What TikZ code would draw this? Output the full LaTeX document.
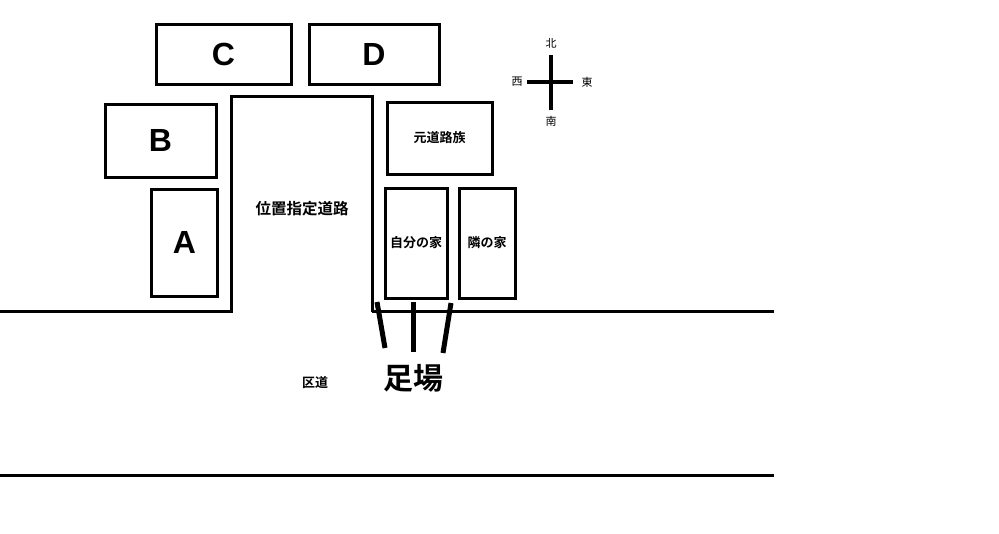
\documentclass[tikz,border=0pt]{standalone}
\usepackage{fontspec}
\setmainfont{Liberation Sans}
\newfontfamily\jpb[BoldFont={Noto Sans CJK JP Bold}]{Noto Sans CJK JP}
\begin{document}
\begin{tikzpicture}[x=1pt,y=-1pt,
  house/.style={draw,line width=3pt,inner sep=0pt,minimum width=#1},
  bigletter/.style={font=\fontsize{32}{32}\selectfont\bfseries},
  jlabel/.style={font=\jpb\fontsize{13}{13}\selectfont\bfseries,inner sep=0pt},
  compasslabel/.style={font=\jpb\fontsize{11}{11}\selectfont,inner sep=0pt},
  roadline/.style={line width=3pt},
  scaffold/.style={line width=5pt},
  compassline/.style={line width=4pt}]
\useasboundingbox (0,0) rectangle (999,533);
% houses
\node[house=135pt,minimum height=60pt,bigletter] (C) at (223.5,54) {C};
\node[house=130pt,minimum height=60pt,bigletter] (D) at (374,54) {D};
\node[house=111pt,minimum height=73pt,bigletter] (B) at (160.5,140.5) {B};
\node[house=66pt,minimum height=107pt,bigletter] (A) at (184.5,242.5) {A};
\node[house=105pt,minimum height=72pt,jlabel] (M) at (439.5,138) {元道路族};
\node[house=62pt,minimum height=110pt,jlabel] (H) at (416,243) {自分の家};
\node[house=56pt,minimum height=110pt,jlabel] (N) at (487,243) {隣の家};
% roads
\coordinate (r1) at (0,311);
\coordinate (r2) at (231,311);
\coordinate (r3) at (231,96);
\coordinate (r4) at (372,96);
\coordinate (r5) at (372,312);
\coordinate (r6) at (774,311);
\coordinate (r7) at (372,311);
\draw[roadline,line join=miter] (r1) -- (r2) -- (r3) -- (r4) -- (r5);
\draw[roadline] (r7) -- (r6);
\coordinate (b1) at (0,475);
\coordinate (b2) at (774,475);
\draw[roadline] (b1) -- (b2);
\node[font=\jpb\fontsize{15.5}{15.5}\selectfont\bfseries,inner sep=0pt] (ichi) at (302,209) {位置指定道路};
\node[jlabel] (kudo) at (315,383) {区道};
% scaffolding
\coordinate (s1a) at (377,302);
\coordinate (s1b) at (385,348);
\coordinate (s2a) at (413,302);
\coordinate (s2b) at (413,352);
\coordinate (s3a) at (451,303);
\coordinate (s3b) at (443,353);
\draw[scaffold] (s1a) -- (s1b);
\draw[scaffold] (s2a) -- (s2b);
\draw[scaffold] (s3a) -- (s3b);
\node[font=\jpb\fontsize{30}{30}\selectfont\bfseries,inner sep=0pt] (ashiba) at (413,378) {足場};
% compass
\coordinate (cn) at (551,55);
\coordinate (cs) at (551,110);
\coordinate (cw) at (527,82);
\coordinate (ce) at (573,82);
\draw[compassline] (cn) -- (cs);
\draw[compassline] (cw) -- (ce);
\node[compasslabel] (kita) at (551,43) {北};
\node[compasslabel] (minami) at (551,121) {南};
\node[compasslabel] (nishi) at (517,82) {西};
\node[compasslabel] (higashi) at (587,82) {東};
\end{tikzpicture}
\end{document}
